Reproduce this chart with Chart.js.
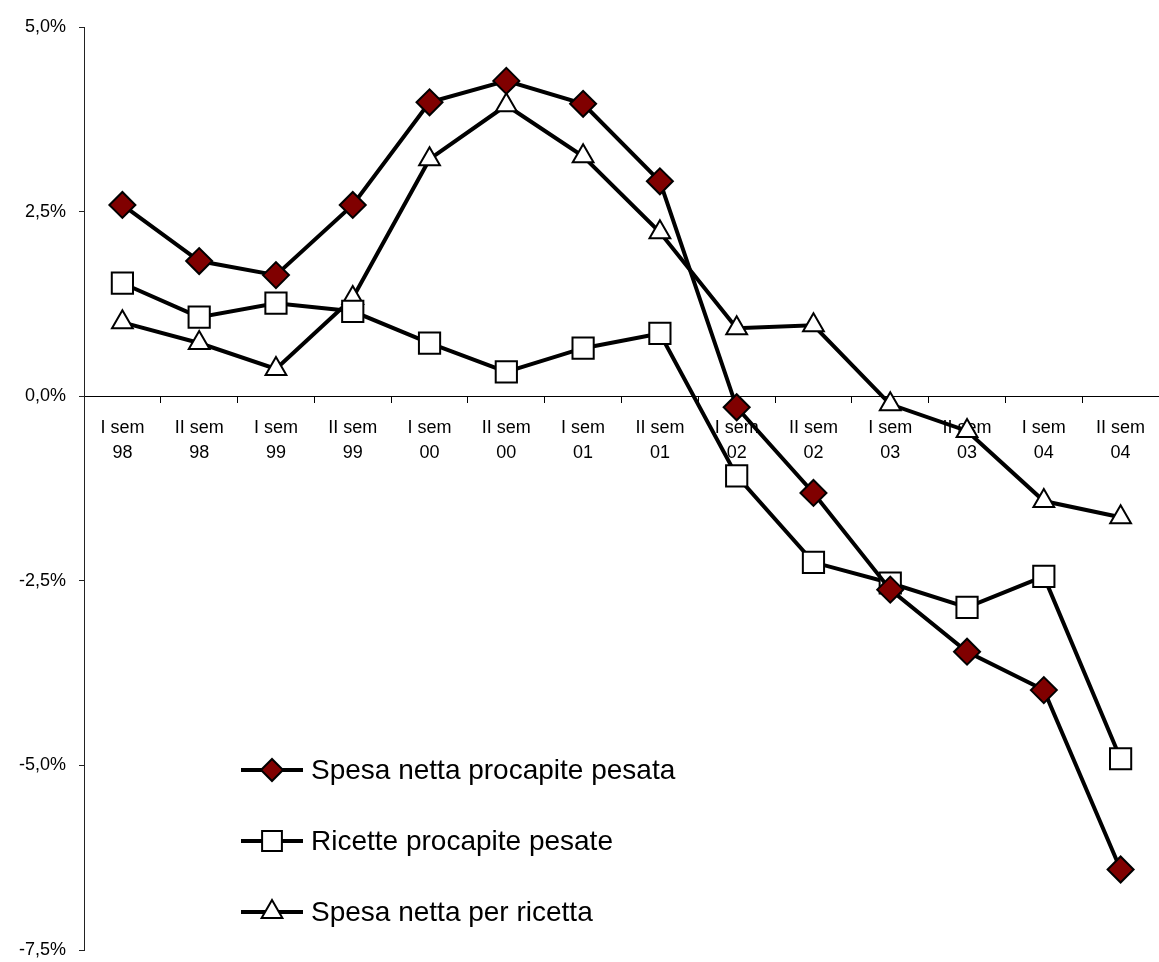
<!DOCTYPE html>
<html>
<head>
<meta charset="utf-8">
<script src="https://cdn.jsdelivr.net/npm/chart.js@4.4.1/dist/chart.umd.min.js"></script>
<style>
    html, body { margin: 0; padding: 0; background: #fff; overflow: hidden; }
    #wrap { width: 1159px; height: 962px; position: relative; }
    canvas { display: block; }
</style>
</head>
<body>
<div id="wrap"><canvas id="chart"></canvas></div>
<script>
// semesters 1998-2004
const semesters = [
    ['I sem', '98'], ['II sem', '98'], ['I sem', '99'], ['II sem', '99'],
    ['I sem', '00'], ['II sem', '00'], ['I sem', '01'], ['II sem', '01'],
    ['I sem', '02'], ['II sem', '02'], ['I sem', '03'], ['II sem', '03'],
    ['I sem', '04'], ['II sem', '04']
];
const seriesNames = ['Spesa netta procapite pesata', 'Ricette procapite pesate', 'Spesa netta per ricetta'];
// values in %
const spesaProcapite = [2.59, 1.83, 1.64, 2.59, 3.98, 4.27, 3.96, 2.91, -0.15, -1.31, -2.62, -3.46, -3.98, -6.41];
const ricetteProcapite = [1.53, 1.07, 1.26, 1.15, 0.72, 0.33, 0.65, 0.85, -1.08, -2.25, -2.53, -2.86, -2.44, -4.91];
const spesaPerRicetta = [1.00, 0.72, 0.37, 1.33, 3.21, 3.94, 3.25, 2.22, 0.92, 0.96, -0.11, -0.47, -1.42, -1.64];
const yMin = -7.5, yMax = 5, yStep = 2.5;

const FONT = 'Arial, "Liberation Sans", sans-serif';
const darkRed = '#800000';

const fmtPct = v => v.toFixed(1).replace('.', ',') + '%';

// legend drawn inside the plot, bottom-left
const insideLegend = {
    id: 'insideLegend',
    afterDatasetsDraw(chart) {
        const ctx = chart.ctx;
        const area = chart.chartArea;
        const x0 = area.left + 157;
        const y0 = area.bottom - 180;
        ctx.save();
        chart.data.datasets.forEach((ds, i) => {
            const y = y0 + i * 71;
            ctx.strokeStyle = '#000';
            ctx.lineWidth = 4;
            ctx.beginPath();
            ctx.moveTo(x0, y);
            ctx.lineTo(x0 + 62, y);
            ctx.stroke();
            ctx.fillStyle = ds.pointBackgroundColor;
            ctx.strokeStyle = '#000';
            ctx.lineWidth = 2;
            Chart.helpers.drawPoint(ctx, {
                pointStyle: ds.pointStyle,
                radius: ds.legendRadius,
                borderWidth: 2,
                rotation: 0
            }, x0 + 31, y);
            ctx.fillStyle = '#000';
            ctx.font = '28px ' + FONT;
            ctx.textAlign = 'left';
            ctx.textBaseline = 'middle';
            ctx.fillText(ds.label, x0 + 70, y + 1);
        });
        ctx.restore();
    }
};

const mkSet = (label, data, style, fill, radius, legendRadius) => ({
    label: label,
    data: data,
    borderColor: '#000',
    borderWidth: 4,
    pointStyle: style,
    pointRadius: radius,
    pointHoverRadius: radius,
    pointBackgroundColor: fill,
    pointBorderColor: '#000',
    pointBorderWidth: 2,
    legendRadius: legendRadius,
    tension: 0,
    clip: false
});

new Chart(document.getElementById('chart').getContext('2d'), {
    type: 'line',
    data: {
        labels: semesters,
        datasets: [
            mkSet(seriesNames[0], spesaProcapite, 'rectRot', darkRed, 13, 11),
            mkSet(seriesNames[1], ricetteProcapite, 'rect', '#fff', 15, 14),
            mkSet(seriesNames[2], spesaPerRicetta, 'triangle', '#fff', 12, 12)
        ]
    },
    options: {
        responsive: true,
        maintainAspectRatio: false,
        animation: false,
        layout: { autoPadding: false, padding: { top: 27, bottom: 12, left: 0, right: -2 } },
        plugins: {
            legend: { display: false },
            tooltip: { enabled: false }
        },
        scales: {
            x: {
                position: { y: 0 },
                offset: true,
                afterFit: s => { s.paddingLeft = 0; s.paddingRight = 0; },
                grid: {
                    offset: true,
                    drawOnChartArea: false,
                    drawTicks: true,
                    tickLength: 6,
                    color: '#000'
                },
                border: { display: true, color: '#000', width: 1 },
                ticks: {
                    color: '#000',
                    font: { family: FONT, size: 18, lineHeight: 1.35 },
                    padding: 14,
                    maxRotation: 0,
                    autoSkip: false
                }
            },
            y: {
                min: yMin,
                max: yMax,
                afterFit: s => { s.width = 84; s.paddingTop = 0; s.paddingBottom = 0; },
                grid: {
                    drawOnChartArea: false,
                    drawTicks: true,
                    tickLength: 5,
                    color: '#222'
                },
                border: { display: true, color: '#222', width: 1 },
                ticks: {
                    stepSize: yStep,
                    color: '#000',
                    font: { family: FONT, size: 18 },
                    padding: 13,
                    callback: v => fmtPct(v)
                }
            }
        }
    },
    plugins: [insideLegend]
});
</script>
</body>
</html>
